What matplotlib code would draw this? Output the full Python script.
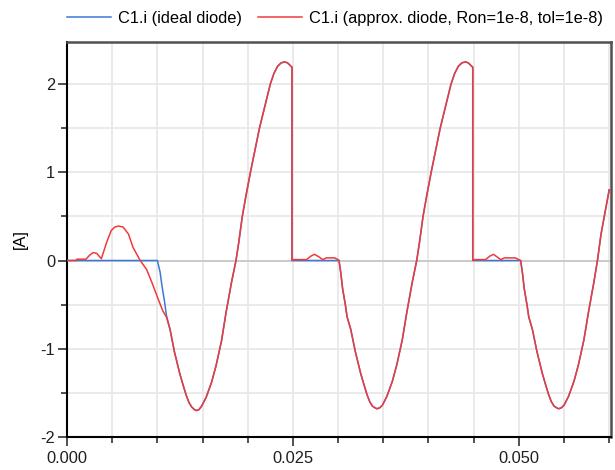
import matplotlib
matplotlib.use('Agg')
import matplotlib.pyplot as plt
from matplotlib.ticker import MultipleLocator, FixedLocator

plt.rcParams['font.family'] = ['Liberation Sans', 'DejaVu Sans']
plt.rcParams['axes.unicode_minus'] = False

# Capacitor current C1.i [A] vs time [s]
red_t = [0.0, 0.0010, 0.0011, 0.0021, 0.0025, 0.0029, 0.0033, 0.0038, 0.0044, 0.0049,
         0.0053, 0.0057, 0.0062, 0.0068, 0.0073, 0.0081, 0.0088, 0.0094, 0.0101, 0.0106,
         0.0110, 0.0114, 0.0119, 0.0125, 0.0129, 0.0132, 0.0135, 0.0138, 0.0141, 0.0143,
         0.0146, 0.0149, 0.0154, 0.0160, 0.0165, 0.0171, 0.0176, 0.0182, 0.0187, 0.0190,
         0.0194, 0.0198, 0.0203, 0.0208, 0.0213, 0.0219, 0.0225, 0.0229, 0.0233, 0.0237,
         0.0241, 0.0244, 0.0247, 0.0249, 0.0249,
         0.0250, 0.0265, 0.0270, 0.0274, 0.0279, 0.0283, 0.0287, 0.0296, 0.0300, 0.0301,
         0.0303, 0.0305, 0.0308, 0.0310, 0.0314, 0.0319, 0.0325, 0.0329, 0.0332, 0.0335,
         0.0338, 0.0341, 0.0343, 0.0346, 0.0349, 0.0354, 0.0360, 0.0365, 0.0371, 0.0376,
         0.0382, 0.0387, 0.0390, 0.0394, 0.0398, 0.0403, 0.0408, 0.0413, 0.0419, 0.0425,
         0.0429, 0.0433, 0.0437, 0.0441, 0.0444, 0.0447, 0.0449, 0.0449,
         0.0451, 0.0463, 0.0468, 0.0472, 0.0476, 0.0480, 0.0484, 0.0496, 0.0500, 0.0502,
         0.0504, 0.0506, 0.0509, 0.0511, 0.0515, 0.0520, 0.0526, 0.0530, 0.0533, 0.0536,
         0.0539, 0.0542, 0.0544, 0.0547, 0.0550, 0.0555, 0.0561, 0.0566, 0.0572, 0.0577,
         0.0583, 0.0587, 0.0591, 0.0596, 0.0600]
red_v = [0.0, 0.0, 0.015, 0.015, 0.06, 0.09, 0.08, 0.02, 0.21, 0.34,
         0.38, 0.39, 0.38, 0.30, 0.15, 0.0, -0.10, -0.25, -0.44, -0.57,
         -0.64, -0.78, -1.04, -1.29, -1.43, -1.53, -1.61, -1.66, -1.69, -1.70,
         -1.69, -1.65, -1.55, -1.38, -1.19, -0.91, -0.59, -0.25, 0.0, 0.2,
         0.5, 0.73, 1.0, 1.25, 1.5, 1.75, 2.0, 2.12, 2.20, 2.24,
         2.25, 2.24, 2.21, 2.19, 0.0,
         0.01, 0.01, 0.05, 0.07, 0.04, 0.01, 0.03, 0.03, 0.01, 0.0,
         -0.14, -0.32, -0.5, -0.64, -0.78, -1.03, -1.28, -1.42, -1.52, -1.60,
         -1.65, -1.67, -1.68, -1.67, -1.64, -1.54, -1.37, -1.18, -0.90, -0.59,
         -0.25, 0.0, 0.2, 0.5, 0.73, 1.0, 1.25, 1.5, 1.75, 2.0,
         2.12, 2.20, 2.24, 2.25, 2.24, 2.21, 2.19, 0.0,
         0.01, 0.01, 0.05, 0.07, 0.04, 0.01, 0.03, 0.03, 0.01, 0.0,
         -0.14, -0.32, -0.5, -0.64, -0.78, -1.03, -1.28, -1.42, -1.52, -1.60,
         -1.65, -1.67, -1.68, -1.67, -1.64, -1.54, -1.37, -1.18, -0.90, -0.59,
         -0.25, 0.0, 0.3, 0.58, 0.8]

blue_t = [0.0, 0.0100, 0.0103, 0.0105, 0.0108, 0.0110, 0.0114, 0.0119, 0.0125, 0.0129,
          0.0132, 0.0135, 0.0138, 0.0141, 0.0143, 0.0146, 0.0149, 0.0154, 0.0160, 0.0165,
          0.0171, 0.0176, 0.0182, 0.0187, 0.0190, 0.0194, 0.0198, 0.0203, 0.0208, 0.0213,
          0.0219, 0.0225, 0.0229, 0.0233, 0.0237, 0.0241, 0.0244, 0.0247, 0.0249, 0.0249,
          0.0301,
          0.0303, 0.0305, 0.0308, 0.0310, 0.0314, 0.0319, 0.0325, 0.0329, 0.0332, 0.0335,
          0.0338, 0.0341, 0.0343, 0.0346, 0.0349, 0.0354, 0.0360, 0.0365, 0.0371, 0.0376,
          0.0382, 0.0387, 0.0390, 0.0394, 0.0398, 0.0403, 0.0408, 0.0413, 0.0419, 0.0425,
          0.0429, 0.0433, 0.0437, 0.0441, 0.0444, 0.0447, 0.0449, 0.0449, 0.0502,
          0.0504, 0.0506, 0.0509, 0.0511, 0.0515, 0.0520, 0.0526, 0.0530, 0.0533, 0.0536,
          0.0539, 0.0542, 0.0544, 0.0547, 0.0550, 0.0555, 0.0561, 0.0566, 0.0572, 0.0577,
          0.0583, 0.0587, 0.0591, 0.0596, 0.0600]
blue_v = [0.0, 0.0, -0.13, -0.28, -0.47, -0.62, -0.78, -1.04, -1.29, -1.43,
          -1.53, -1.61, -1.66, -1.69, -1.70, -1.69, -1.65, -1.55, -1.38, -1.19,
          -0.91, -0.59, -0.25, 0.0, 0.2, 0.5, 0.73, 1.0, 1.25, 1.5,
          1.75, 2.0, 2.12, 2.20, 2.24, 2.25, 2.24, 2.21, 2.19, 0.0,
          0.0,
          -0.14, -0.32, -0.5, -0.64, -0.78, -1.03, -1.28, -1.42, -1.52, -1.60,
          -1.65, -1.67, -1.68, -1.67, -1.64, -1.54, -1.37, -1.18, -0.90, -0.59,
          -0.25, 0.0, 0.2, 0.5, 0.73, 1.0, 1.25, 1.5, 1.75, 2.0,
          2.12, 2.20, 2.24, 2.25, 2.24, 2.21, 2.19, 0.0, 0.0,
          -0.14, -0.32, -0.5, -0.64, -0.78, -1.03, -1.28, -1.42, -1.52, -1.60,
          -1.65, -1.67, -1.68, -1.67, -1.64, -1.54, -1.37, -1.18, -0.90, -0.59,
          -0.25, 0.0, 0.3, 0.58, 0.8]

labels = ["C1.i (ideal diode)", "C1.i (approx. diode, Ron=1e-8, tol=1e-8)"]
x_ticks = [0.0, 0.025, 0.05]
x_ticklabels = ["0.000", "0.025", "0.050"]

fs = 11.8
fig = plt.figure(figsize=(6.15, 4.70), dpi=100)
ax = fig.add_axes([67 / 615, 1 - 437 / 470, 544 / 615, 395 / 470])

ax.plot(blue_t, blue_v, color='#3c78d8', lw=1.1, label=labels[0], zorder=3)
ax.plot(red_t, red_v, color='#f03a3a', lw=1.1, label=labels[1], zorder=4)

ax.set_xlim(0, 0.0602)
ax.set_ylim(-2, 2.476)

ax.xaxis.set_major_locator(FixedLocator(x_ticks))
ax.set_xticklabels(x_ticklabels)
ax.xaxis.set_minor_locator(MultipleLocator(0.005))
ax.yaxis.set_major_locator(MultipleLocator(1))
ax.yaxis.set_minor_locator(MultipleLocator(0.5))

ax.grid(True, which='both', color='#e8e8e8', lw=1.3, zorder=0)
ax.axhline(0, color='#c8c8c8', lw=1.3, zorder=1)
ax.set_axisbelow(True)

ax.tick_params(which='major', length=6.5, width=1.1, labelsize=fs, colors='#202020')
ax.tick_params(axis='x', which='major', pad=3.5)
ax.tick_params(axis='y', which='major', pad=2)
ax.tick_params(which='minor', length=4.3, width=1.1, color='#202020')

for side in ['left', 'bottom']:
    ax.spines[side].set_color('black')
    ax.spines[side].set_linewidth(1.5)
for side in ['top', 'right']:
    ax.spines[side].set_color('#505050')
    ax.spines[side].set_linewidth(1.8)

ax.set_ylabel("[A]", fontsize=fs, labelpad=9)

fig.legend(loc='center left', bbox_to_anchor=(67 / 615, 1 - 18 / 470), ncol=2,
           frameon=False, fontsize=fs, handlelength=2.7, handletextpad=0.4,
           columnspacing=1.0, borderpad=0, borderaxespad=0)

fig.savefig('out.png', dpi=100)
